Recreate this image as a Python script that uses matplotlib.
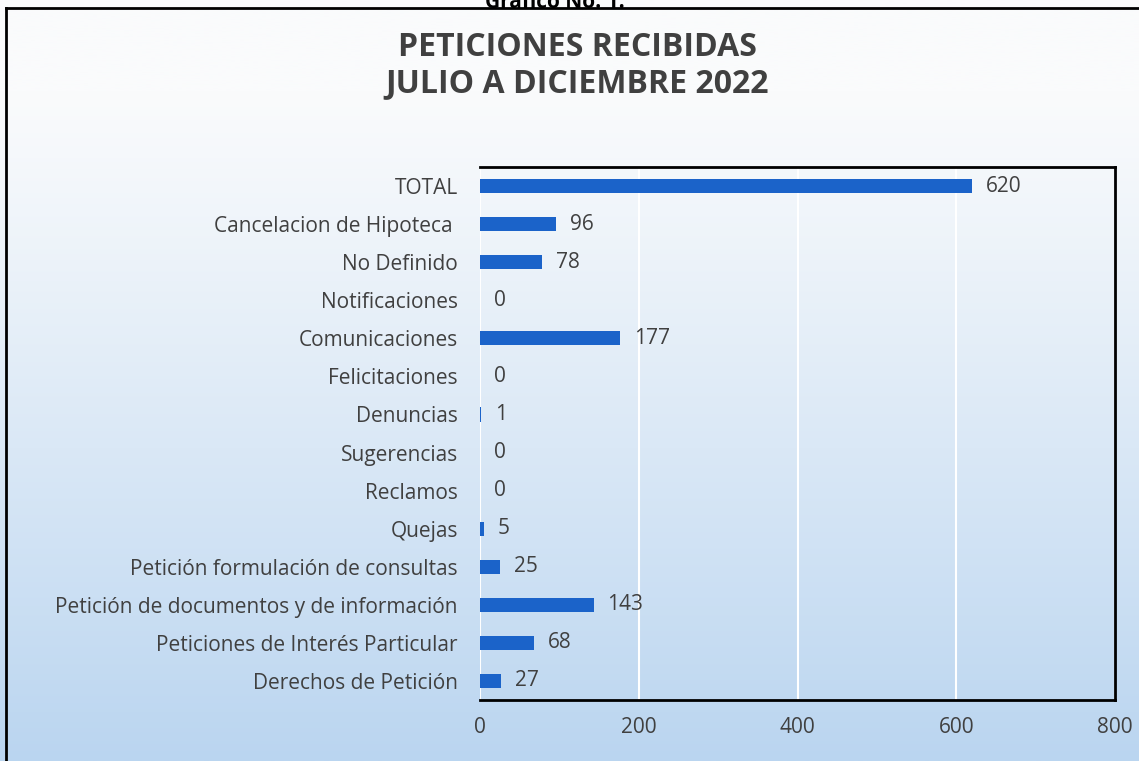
import matplotlib.pyplot as plt
import numpy as np
from matplotlib.lines import Line2D

# data, top to bottom as in the chart
categories = [
    'TOTAL',
    'Cancelacion de Hipoteca ',
    'No Definido',
    'Notificaciones',
    'Comunicaciones',
    'Felicitaciones',
    'Denuncias',
    'Sugerencias',
    'Reclamos',
    'Quejas',
    'Petición formulación de consultas',
    'Petición de documentos y de información',
    'Peticiones de Interés Particular',
    'Derechos de Petición',
]
values = [620, 96, 78, 0, 177, 0, 1, 0, 0, 5, 25, 143, 68, 27]
xticks = [0, 200, 400, 600, 800]

plt.rcParams['font.family'] = ['Open Sans', 'DejaVu Sans']
text_color = '#404040'
bar_color = '#1b63c9'

fig = plt.figure(figsize=(11.39, 7.61), dpi=100)

# gradient background: white at top, light blue at bottom
bg = fig.add_axes([0, 0, 1, 1], zorder=0)
top_c = np.array([250, 251, 252]) / 255.
bot_c = np.array([186, 213, 240]) / 255.
t = np.linspace(0, 1, 500)[:, None]
s = np.clip((t - 0.12) / 0.88, 0, 1)
ramp = top_c + (bot_c - top_c) * s ** 1.1
bg.imshow(ramp[:, None, :], aspect='auto', extent=[0, 1, 0, 1])
bg.set_axis_off()

# outer chart frame (left and top visible)
fig.add_artist(Line2D([6 / 1139, 6 / 1139], [0, 1 - 8 / 761],
                      color='black', lw=2, transform=fig.transFigure))
fig.add_artist(Line2D([6 / 1139, 1], [1 - 8 / 761, 1 - 8 / 761],
                      color='black', lw=2, transform=fig.transFigure))

# caption above the frame, cut by the page edge in the scan
fig.text(0.487, 1 - 2 / 761, 'Gráfico No. 1.', ha='center', va='center',
         fontsize=15, fontweight='bold', color='black')

fig.text(0.507, 1 - 47 / 761, 'PETICIONES RECIBIDAS', ha='center', va='center',
         fontsize=23, fontweight='bold', color=text_color)
fig.text(0.507, 1 - 84 / 761, 'JULIO A DICIEMBRE 2022', ha='center', va='center',
         fontsize=23, fontweight='bold', color=text_color)

ax = fig.add_axes([480 / 1139, 1 - 700 / 761, 635 / 1139, 533 / 761], zorder=1)
ax.set_facecolor('none')

y = np.arange(len(categories))
bars = ax.barh(y, values, height=0.37, color=bar_color, zorder=2)
ax.bar_label(bars, padding=10, fontsize=15, color=text_color)

ax.set_xlim(0, 800)
ax.set_ylim(len(categories) - 0.5, -0.5)
ax.set_yticks(y)
ax.set_yticklabels(categories, fontsize=15, color=text_color)
ax.set_xticks(xticks)
ax.set_xticklabels([str(v) for v in xticks], fontsize=15, color=text_color)
ax.tick_params(axis='y', length=0, pad=16)
ax.tick_params(axis='x', length=0, pad=12)

ax.grid(axis='x', color='white', lw=1.5, zorder=1)
ax.set_axisbelow(True)
for side in ['top', 'right', 'bottom']:
    ax.spines[side].set_color('black')
    ax.spines[side].set_linewidth(2)
ax.spines['left'].set_visible(False)

plt.savefig('out.png', dpi=100)
